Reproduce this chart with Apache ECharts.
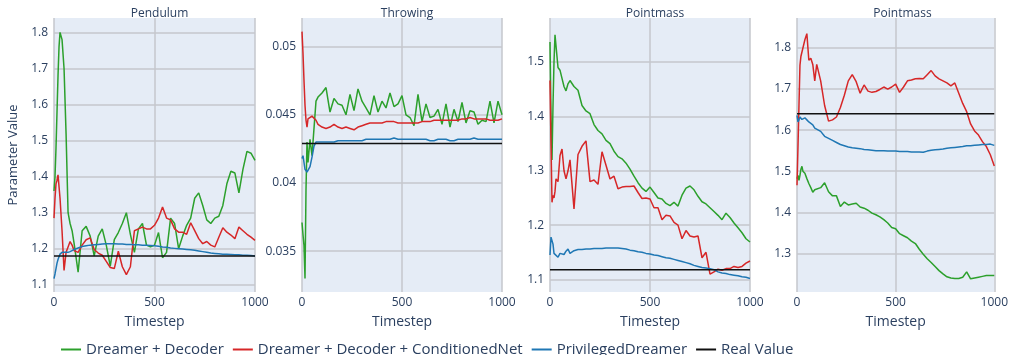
<!DOCTYPE html>
<html>
<head>
<meta charset="utf-8">
<script src="https://cdn.jsdelivr.net/npm/echarts@6/dist/echarts.min.js"></script>
<style>
  html, body { margin: 0; padding: 0; background: #ffffff; }
  #chart { width: 1011px; height: 355px; }
</style>
</head>
<body>
<div id="chart"></div>
<script>
// shared timesteps (denser at the start where the runs move fast)
const timesteps = [0, 5, 10, 15, 20, 25, 30, 40, 50, 60, 70, 80, 90, 100,
  120, 140, 160, 180, 200, 220, 240, 260, 280, 300, 320, 340, 360, 380, 400,
  420, 440, 460, 480, 500, 520, 540, 560, 580, 600, 620, 640, 660, 680, 700,
  720, 740, 760, 780, 800, 820, 840, 860, 880, 900, 920, 940, 960, 980, 1000]

const panelTitles = ['Pendulum', 'Throwing', 'Pointmass', 'Pointmass']
const seriesNames = ['Dreamer + Decoder', 'Dreamer + Decoder + ConditionedNet', 'PrivilegedDreamer', 'Real Value']
const realValues = [1.18, 0.0429, 1.118, 1.64]

// Pendulum
const pendulumDecoder = [1.36, 1.40, 1.48, 1.58, 1.68, 1.76, 1.80, 1.78, 1.70, 1.52, 1.30, 1.27, 1.25, 1.215,
  1.135, 1.25, 1.262, 1.235, 1.18, 1.235, 1.255, 1.21, 1.152, 1.225,
  1.245, 1.27, 1.30, 1.24, 1.19, 1.255, 1.27, 1.21, 1.205, 1.21,
  1.245, 1.175, 1.19, 1.285, 1.27, 1.20, 1.235, 1.265, 1.285, 1.34,
  1.355, 1.32, 1.28, 1.27, 1.285, 1.29, 1.32, 1.38, 1.415, 1.41,
  1.355, 1.42, 1.47, 1.465, 1.445]
const pendulumConditioned = [1.285, 1.34, 1.38, 1.39, 1.405, 1.41, 1.34, 1.25, 1.14, 1.19, 1.205, 1.22, 1.21, 1.195,
  1.19, 1.21, 1.225, 1.23, 1.198, 1.188, 1.182, 1.165, 1.148, 1.145,
  1.193, 1.15, 1.128, 1.15, 1.25, 1.255, 1.26, 1.255, 1.255, 1.265,
  1.285, 1.316, 1.285, 1.28, 1.255, 1.246, 1.246, 1.24, 1.272, 1.25,
  1.228, 1.214, 1.22, 1.21, 1.205, 1.232, 1.258, 1.246, 1.238, 1.228,
  1.26, 1.25, 1.24, 1.232, 1.223]
const pendulumPrivileged = [1.117, 1.13, 1.145, 1.16, 1.17, 1.178, 1.185, 1.19, 1.19, 1.19, 1.19, 1.192, 1.195, 1.198,
  1.202, 1.206, 1.208, 1.21, 1.211, 1.212, 1.213, 1.214, 1.214, 1.214,
  1.213, 1.213, 1.212, 1.212, 1.211, 1.211, 1.21, 1.21, 1.209, 1.208,
  1.207, 1.205, 1.204, 1.202, 1.201, 1.2, 1.199, 1.198, 1.197, 1.196,
  1.194, 1.192, 1.19, 1.188, 1.187, 1.186, 1.185, 1.185, 1.184, 1.183,
  1.183, 1.182, 1.182, 1.181, 1.18]

// Throwing
const throwingDecoder = [0.0371, 0.0362, 0.0354, 0.0330, 0.0395, 0.0430, 0.0415, 0.0432, 0.0420, 0.0440, 0.0460, 0.0463, 0.0462, 0.0466,
  0.0470, 0.0452, 0.0462, 0.0458, 0.0457, 0.0450, 0.0465, 0.0453, 0.0469, 0.0460,
  0.0455, 0.0450, 0.0464, 0.0452, 0.0460, 0.0455, 0.0466, 0.0456, 0.0458, 0.0464,
  0.0450, 0.0448, 0.0442, 0.0465, 0.0445, 0.0458, 0.0448, 0.0449, 0.0454, 0.0443,
  0.0458, 0.0441, 0.0454, 0.0445, 0.0459, 0.0444, 0.0453, 0.0452, 0.0443, 0.0446,
  0.0445, 0.0460, 0.0444, 0.0460, 0.0450]
const throwingConditioned = [0.0511, 0.0495, 0.0475, 0.0457, 0.0446, 0.0441, 0.0447, 0.0448, 0.0449, 0.0450, 0.0446, 0.0443, 0.0442, 0.0441,
  0.0440, 0.0441, 0.0443, 0.0441, 0.0440, 0.0441, 0.0440, 0.0439, 0.0441, 0.0442,
  0.0443, 0.0444, 0.0444, 0.0444, 0.0444, 0.0445, 0.0445, 0.0445, 0.0444, 0.0444,
  0.0444, 0.0444, 0.0444, 0.0444, 0.0445, 0.0445, 0.0445, 0.0446, 0.0446, 0.0446,
  0.0446, 0.0446, 0.0446, 0.0446, 0.0447, 0.0447, 0.0448, 0.0447, 0.0447, 0.0447,
  0.0447, 0.0446, 0.0446, 0.0446, 0.0447]
const throwingPrivileged = [0.0418, 0.0420, 0.0415, 0.0410, 0.0409, 0.0408, 0.0409, 0.0412, 0.0419, 0.0427, 0.0430, 0.0431, 0.0430, 0.0430,
  0.0430, 0.0430, 0.0430, 0.0431, 0.0431, 0.0431, 0.0431, 0.0431, 0.0431, 0.0431,
  0.0432, 0.0432, 0.0432, 0.0432, 0.0432, 0.0432, 0.0432, 0.0433, 0.0432, 0.0432,
  0.0432, 0.0432, 0.0432, 0.0432, 0.0432, 0.0432, 0.0431, 0.0431, 0.0432, 0.0432,
  0.0432, 0.0431, 0.0431, 0.0432, 0.0432, 0.0432, 0.0432, 0.0433, 0.0432, 0.0432,
  0.0432, 0.0432, 0.0432, 0.0432, 0.0432]

// Pointmass (first)
const pointmassDecoder = [1.537, 1.40, 1.32, 1.42, 1.50, 1.55, 1.55, 1.49, 1.485, 1.47, 1.455, 1.447, 1.46, 1.466,
  1.455, 1.448, 1.42, 1.41, 1.405, 1.385, 1.374, 1.368, 1.356, 1.350,
  1.336, 1.326, 1.322, 1.314, 1.303, 1.29, 1.278, 1.268, 1.262, 1.27,
  1.26, 1.25, 1.248, 1.24, 1.236, 1.242, 1.235, 1.255, 1.268, 1.272,
  1.265, 1.253, 1.243, 1.239, 1.232, 1.225, 1.218, 1.21, 1.222, 1.214,
  1.204, 1.195, 1.186, 1.175, 1.169]
const pointmassConditioned = [1.466, 1.35, 1.242, 1.255, 1.25, 1.262, 1.285, 1.28, 1.328, 1.34, 1.30, 1.285, 1.30, 1.32,
  1.23, 1.33, 1.345, 1.355, 1.28, 1.283, 1.275, 1.335, 1.31, 1.285,
  1.29, 1.267, 1.27, 1.271, 1.271, 1.272, 1.26, 1.249, 1.25, 1.248,
  1.232, 1.232, 1.21, 1.218, 1.217, 1.205, 1.2, 1.175, 1.19, 1.18,
  1.178, 1.18, 1.14, 1.15, 1.11, 1.114, 1.119, 1.117, 1.12, 1.12,
  1.124, 1.122, 1.124, 1.13, 1.134]
const pointmassPrivileged = [1.145, 1.178, 1.175, 1.165, 1.148, 1.145, 1.147, 1.141, 1.148, 1.147, 1.146, 1.152, 1.156, 1.148,
  1.153, 1.155, 1.155, 1.156, 1.156, 1.157, 1.157, 1.157, 1.158, 1.158,
  1.158, 1.158, 1.157, 1.156, 1.154, 1.153, 1.151, 1.15, 1.148, 1.147,
  1.145, 1.144, 1.142, 1.14, 1.139, 1.137, 1.135, 1.133, 1.131, 1.129,
  1.126, 1.124, 1.122, 1.121, 1.12, 1.118, 1.114, 1.112, 1.111, 1.109,
  1.108, 1.107, 1.105, 1.104, 1.102]

// Pointmass (second)
const pointmass2Decoder = [1.482, 1.49, 1.478, 1.49, 1.505, 1.512, 1.50, 1.495, 1.482, 1.47, 1.46, 1.449, 1.455, 1.458,
  1.46, 1.472, 1.45, 1.44, 1.44, 1.414, 1.425, 1.418, 1.42, 1.422,
  1.413, 1.41, 1.405, 1.398, 1.394, 1.389, 1.382, 1.374, 1.363, 1.36,
  1.348, 1.343, 1.338, 1.33, 1.324, 1.31, 1.298, 1.287, 1.278, 1.268,
  1.258, 1.25, 1.243, 1.24, 1.239, 1.239, 1.242, 1.255, 1.238, 1.24,
  1.242, 1.244, 1.246, 1.246, 1.246]
const pointmass2Conditioned = [1.466, 1.56, 1.66, 1.758, 1.78, 1.78, 1.778, 1.82, 1.835, 1.77, 1.775, 1.76, 1.72, 1.76,
  1.72, 1.66, 1.622, 1.625, 1.632, 1.655, 1.685, 1.72, 1.735, 1.718,
  1.69, 1.71, 1.695, 1.692, 1.694, 1.699, 1.705, 1.70, 1.705, 1.712,
  1.692, 1.705, 1.72, 1.722, 1.725, 1.726, 1.725, 1.735, 1.745, 1.732,
  1.725, 1.72, 1.715, 1.708, 1.715, 1.69, 1.665, 1.645, 1.615, 1.598,
  1.588, 1.572, 1.56, 1.54, 1.513]
const pointmass2Privileged = [1.636, 1.62, 1.625, 1.632, 1.628, 1.626, 1.627, 1.63, 1.625, 1.62, 1.618, 1.613, 1.605, 1.604,
  1.597, 1.585, 1.58, 1.575, 1.57, 1.565, 1.562, 1.559, 1.557, 1.556,
  1.555, 1.553, 1.552, 1.551, 1.55, 1.55, 1.55, 1.549, 1.549, 1.549,
  1.548, 1.548, 1.548, 1.547, 1.547, 1.547, 1.546, 1.549, 1.551, 1.552,
  1.553, 1.554, 1.556, 1.557, 1.558, 1.559, 1.56, 1.562, 1.562, 1.563,
  1.564, 1.565, 1.565, 1.566, 1.563]

const panelSeries = [
  [pendulumDecoder, pendulumConditioned, pendulumPrivileged],
  [throwingDecoder, throwingConditioned, throwingPrivileged],
  [pointmassDecoder, pointmassConditioned, pointmassPrivileged],
  [pointmass2Decoder, pointmass2Conditioned, pointmass2Privileged],
]

// layout / styling (not data)
const colors = ['#2ca02c', '#d62728', '#1f77b4', '#111111']
const font = '"Open Sans", sans-serif'
const textColor = '#2a3f5f'
const gridBoxes = [
  { left: 54, width: 201 },
  { left: 302, width: 200 },
  { left: 550, width: 200 },
  { left: 797, width: 201 },
]
const yRanges = [
  { min: 1.08, max: 1.84, step: 0.1 },
  { min: 0.032, max: 0.0521, step: 0.005 },
  { min: 1.077, max: 1.581, step: 0.1 },
  { min: 1.206, max: 1.873, step: 0.1 },
]

const myChart = echarts.init(document.getElementById('chart'))

const grids = gridBoxes.map((g) => ({
  left: g.left,
  width: g.width,
  top: 18,
  height: 274,
  show: true,
  backgroundColor: '#e5ecf6',
  borderWidth: 0,
}))

const titles = gridBoxes.map((g, i) => ({
  text: panelTitles[i],
  left: g.left + g.width / 2,
  top: 3,
  textAlign: 'center',
  textStyle: { fontSize: 12, fontWeight: 'normal', color: textColor, fontFamily: font },
}))

const xAxes = gridBoxes.map((g, i) => ({
  type: 'value',
  gridIndex: i,
  min: 0,
  max: 1000,
  interval: 500,
  name: 'Timestep',
  nameLocation: 'middle',
  nameGap: 23,
  nameTextStyle: { fontSize: 14, color: textColor, fontFamily: font },
  axisLine: { show: false },
  axisTick: { show: false },
  axisLabel: {
    fontSize: 12, color: textColor, fontFamily: font, margin: 5,
    formatter: (v) => String(v),
  },
  splitLine: { lineStyle: { color: '#c4c7cc', width: 1.5 } },
}))

const yAxes = yRanges.map((r, i) => ({
  type: 'value',
  gridIndex: i,
  min: r.min,
  max: r.max,
  minInterval: r.step,
  maxInterval: r.step,
  splitNumber: 8,
  name: i === 0 ? 'Parameter Value' : '',
  nameLocation: 'middle',
  nameGap: 34,
  nameTextStyle: { fontSize: 13, color: textColor, fontFamily: font },
  axisLine: { show: false },
  axisTick: { show: false },
  axisLabel: {
    fontSize: 12, color: textColor, fontFamily: font, margin: 6,
    showMinLabel: false, showMaxLabel: false,
  },
  splitLine: { showMinLine: false, showMaxLine: false, lineStyle: { color: '#c4c7cc', width: 1.5 } },
}))

const series = []
panelSeries.forEach((group, p) => {
  group.forEach((values, k) => {
    series.push({
      name: seriesNames[k],
      type: 'line',
      xAxisIndex: p,
      yAxisIndex: p,
      data: timesteps.map((t, j) => [t, values[j]]),
      showSymbol: false,
      lineStyle: { width: 1.5, color: colors[k] },
      itemStyle: { color: colors[k] },
      animation: false,
    })
  })
  series.push({
    name: seriesNames[3],
    type: 'line',
    xAxisIndex: p,
    yAxisIndex: p,
    data: [[0, realValues[p]], [1000, realValues[p]]],
    showSymbol: false,
    lineStyle: { width: 1.5, color: colors[3] },
    itemStyle: { color: colors[3] },
    animation: false,
  })
})

myChart.setOption({
  animation: false,
  title: titles,
  grid: grids,
  xAxis: xAxes,
  yAxis: yAxes,
  legend: {
    data: seriesNames,
    left: 56,
    top: 337,
    icon: 'rect',
    itemWidth: 20,
    itemHeight: 2,
    itemGap: 9,
    textStyle: { fontSize: 15, color: textColor, fontFamily: font },
  },
  series: series,
})
</script>
</body>
</html>
